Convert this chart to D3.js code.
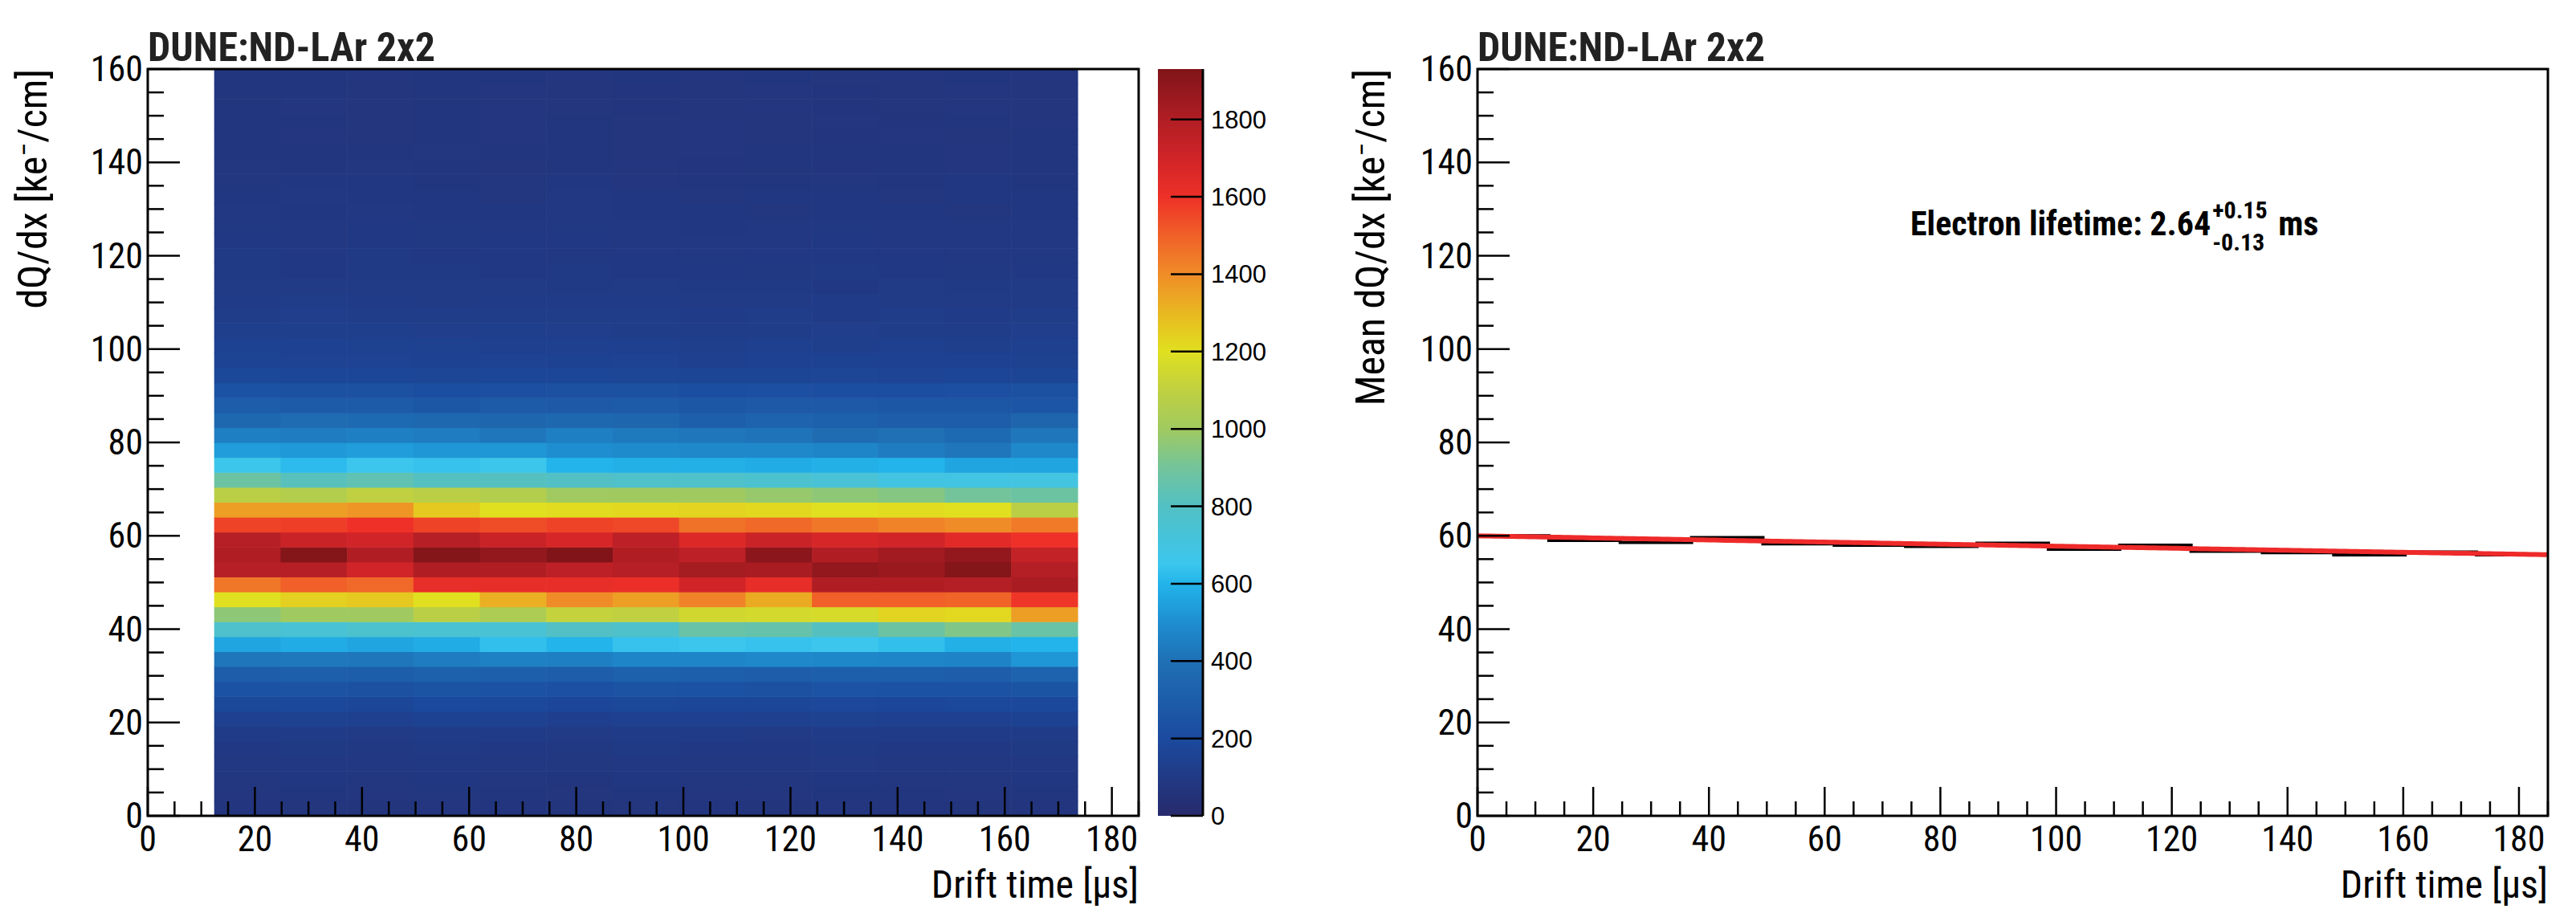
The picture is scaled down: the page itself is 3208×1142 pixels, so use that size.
<!DOCTYPE html>
<html><head><meta charset="utf-8">
<script src="https://cdn.jsdelivr.net/npm/d3@7"></script>
<style>body{margin:0;background:#fff}svg{display:block}</style>
</head><body>
<script>
// ---------- data ----------
const heatXEdges0 = 12.4, heatXBinW = 12.4, heatYBinH = 3.2;
// rows from bottom (0-3.2) upward, 13 drift-time columns each
const heatCounts = [
[70,72,68,75,70,66,72,70,68,74,70,69,71],
[75,78,74,80,76,73,77,75,74,78,76,75,77],
[80,82,79,84,80,78,82,80,79,83,81,80,82],
[88,90,86,92,88,85,90,87,86,91,88,87,89],
[95,97,93,100,96,92,98,95,94,99,96,95,97],
[110,112,108,115,110,106,113,110,108,114,111,110,112],
[140,145,135,150,142,134,140,138,136,145,140,140,150],
[185,190,180,195,186,178,185,180,176,182,178,188,186],
[240,245,235,252,240,234,246,240,236,248,242,240,252],
[300,310,305,320,310,300,315,312,300,312,310,300,330],
[420,425,420,440,455,450,470,470,480,475,470,465,520],
[560,580,560,580,630,600,640,650,640,650,630,590,600],
[770,740,760,750,740,800,780,870,860,810,880,930,870],
[960,1000,1000,1080,1040,1110,1100,1150,1160,1170,1230,1220,1360],
[1200,1240,1260,1200,1320,1400,1360,1420,1330,1500,1500,1490,1590],
[1450,1500,1480,1620,1620,1620,1610,1700,1620,1800,1800,1790,1820],
[1780,1780,1700,1800,1800,1760,1780,1830,1820,1880,1860,1920,1790],
[1800,1920,1800,1920,1880,1930,1800,1760,1900,1800,1840,1880,1740],
[1780,1720,1700,1780,1720,1680,1760,1660,1720,1680,1700,1640,1600],
[1560,1570,1600,1560,1540,1560,1550,1460,1480,1450,1420,1400,1440],
[1360,1360,1380,1260,1200,1210,1220,1230,1220,1200,1210,1200,1080],
[1080,1060,1100,1080,1060,1000,1000,1000,980,960,940,900,880],
[880,820,840,810,810,800,780,780,760,740,700,690,700],
[660,620,650,640,660,600,590,590,580,590,600,560,560],
[540,530,540,520,520,500,490,480,480,470,440,420,480],
[450,440,450,440,420,450,430,420,410,380,400,370,420],
[360,380,370,360,350,360,350,310,330,320,300,300,340],
[300,290,285,270,285,280,285,270,280,280,270,270,260],
[240,235,230,220,225,235,230,220,225,215,215,225,230],
[185,180,180,172,180,176,172,168,168,172,165,170,168],
[160,156,158,152,154,150,154,135,148,150,146,146,142],
[150,146,142,142,140,140,136,132,136,132,136,132,136],
[128,132,128,124,132,124,120,120,118,124,120,118,124],
[120,124,120,116,120,116,120,112,116,112,116,112,116],
[112,116,112,108,112,110,112,108,104,112,108,104,108],
[108,104,104,108,104,102,104,100,102,96,104,100,104],
[100,96,100,98,96,98,96,94,92,98,96,92,94],
[98,96,98,96,94,92,96,92,94,96,94,90,92],
[94,90,94,92,94,96,88,90,88,94,88,86,90],
[92,88,94,92,88,92,88,84,88,92,88,86,88],
[88,84,88,82,84,88,84,82,80,84,82,80,84],
[84,86,82,84,80,86,84,80,82,84,80,82,84],
[80,84,82,78,80,82,74,78,76,80,78,82,78],
[80,78,80,76,72,78,75,70,76,70,78,75,78],
[78,76,78,80,76,78,72,74,76,78,76,74,78],
[76,74,72,76,74,78,72,74,72,70,74,72,76],
[76,78,72,76,74,76,72,74,72,74,70,76,74],
[76,74,72,76,74,72,70,72,74,70,72,74,72],
[76,78,72,76,74,72,70,72,74,70,72,74,72],
[78,76,74,78,76,74,76,74,76,72,74,76,74]
];
const colorStops = [0,200,400,500,600,650,800,900,1000,1100,1200,1300,1400,1500,1600,1700,1800,1930];
const colorList = ["#272a6c","#1b4a9e","#1f70b5","#1e8ed0","#22b4ea","#3cc6ee","#52c0c4","#73c49a","#a0ca60","#c0d040","#e0e020","#e8b820","#f08c28","#f06028","#ee3028","#d02428","#b01e24","#801418"];
const zMax = 1930;
const zTicks = [0,200,400,600,800,1000,1200,1400,1600,1800];
const meanBinW = 12.333;
const meanValues = [60.0,59.0,58.6,59.6,58.3,58.0,57.7,58.4,57.1,58.0,56.7,56.4,55.9,56.5,55.9];
const fitA = 60.0, fitLifetimeUs = 2640;
const xTickVals = [0,20,40,60,80,100,120,140,160,180];
const yTickVals = [0,20,40,60,80,100,120,140,160];
const xMax = 185, yMax = 160;

// ---------- drawing ----------
const W = 3208, H = 1142;
const svg = d3.select("body").append("svg").attr("width", W).attr("height", H);
const NUM = "'Liberation Sans Narrow','Roboto Condensed','Liberation Sans',sans-serif";
const pTop = 86, pBottom = 1016;
const color = d3.scaleLinear().domain(colorStops).range(colorList).clamp(true);

function frame(x0, x1) {
  const x = d3.scaleLinear().domain([0, xMax]).range([x0, x1]);
  const y = d3.scaleLinear().domain([0, yMax]).range([pBottom, pTop]);
  return {x, y};
}
function axes(x, y, ylabel, ylabelX) {
  const [x0, x1] = x.range();
  const g = svg.append("g");
  const minorX = d3.range(0, xMax + 0.01, 5);
  g.selectAll(".mx").data(minorX).join("line")
    .attr("x1", d => x(d)).attr("x2", d => x(d))
    .attr("y1", pBottom).attr("y2", d => pBottom - (d % 20 === 0 ? 36 : 18))
    .attr("stroke", "#000").attr("stroke-width", 2.5);
  const minorY = d3.range(0, yMax + 0.01, 5);
  g.selectAll(".my").data(minorY).join("line")
    .attr("y1", d => y(d)).attr("y2", d => y(d))
    .attr("x1", x0).attr("x2", d => x0 + (d % 20 === 0 ? 40 : 20))
    .attr("stroke", "#000").attr("stroke-width", 2.5);
  g.append("rect").attr("x", x0).attr("y", pTop).attr("width", x1 - x0).attr("height", pBottom - pTop)
    .attr("fill", "none").attr("stroke", "#000").attr("stroke-width", 3);
  g.selectAll(".xl").data(xTickVals).join("text")
    .attr("x", d => x(d)).attr("y", pBottom + 44).attr("text-anchor", "middle")
    .attr("font-family", NUM).attr("font-size", 44).text(d => d);
  g.selectAll(".yl").data(yTickVals).join("text")
    .attr("x", x0 - 6).attr("y", d => y(d) + 15).attr("text-anchor", "end")
    .attr("font-family", NUM).attr("font-size", 44).text(d => d);
  g.append("text").attr("x", x1).attr("y", 1118).attr("text-anchor", "end")
    .attr("font-family", NUM).attr("font-size", 48).text("Drift time [μs]");
  const t = g.append("text").attr("transform", `translate(${ylabelX},${pTop}) rotate(-90)`)
    .attr("text-anchor", "end").attr("font-family", NUM).attr("font-size", 50);
  t.append("tspan").text(ylabel + " [ke");
  t.append("tspan").attr("dy", -16).attr("font-size", 34).text("−");
  t.append("tspan").attr("dy", 16).text("/cm]");
  g.append("text").attr("x", x0).attr("y", 76).attr("font-family", NUM)
    .attr("font-weight", "bold").attr("font-size", 50).attr("fill", "#222").text("DUNE:ND-LAr 2x2");
}

// left: heatmap
const L = frame(184, 1418);
const cells = [];
heatCounts.forEach((row, j) => row.forEach((v, i) => cells.push({i, j, v})));
svg.append("g").selectAll("rect").data(cells).join("rect")
  .attr("x", d => L.x(heatXEdges0 + d.i * heatXBinW))
  .attr("width", d => L.x(heatXEdges0 + (d.i + 1) * heatXBinW) - L.x(heatXEdges0 + d.i * heatXBinW) + 0.6)
  .attr("y", d => L.y((d.j + 1) * heatYBinH))
  .attr("height", d => L.y(d.j * heatYBinH) - L.y((d.j + 1) * heatYBinH) + 0.6)
  .attr("fill", d => color(d.v));
axes(L.x, L.y, "dQ/dx", 58);

// colorbar
const cbX0 = 1442, cbX1 = 1498;
const zS = d3.scaleLinear().domain([0, zMax]).range([pBottom, pTop]);
const grad = svg.append("defs").append("linearGradient").attr("id", "cb")
  .attr("x1", 0).attr("y1", 1).attr("x2", 0).attr("y2", 0);
colorStops.forEach((s, k) => grad.append("stop").attr("offset", s / zMax).attr("stop-color", colorList[k]));
svg.append("rect").attr("x", cbX0).attr("y", pTop).attr("width", cbX1 - cbX0).attr("height", pBottom - pTop).attr("fill", "url(#cb)");
svg.append("line").attr("x1", cbX1).attr("x2", cbX1).attr("y1", pTop).attr("y2", pBottom).attr("stroke", "#000").attr("stroke-width", 3);
svg.selectAll(".zt").data(zTicks).join("line").attr("x1", cbX1 - 40).attr("x2", cbX1)
  .attr("y1", d => zS(d)).attr("y2", d => zS(d)).attr("stroke", "#000").attr("stroke-width", 2.5);
svg.selectAll(".zl").data(zTicks).join("text").attr("x", cbX1 + 10).attr("y", d => zS(d) + 11)
  .attr("font-family", "'Liberation Sans',Arial,sans-serif").attr("font-size", 31).text(d => d);

// right: mean profile
const R = frame(1840, 3173);
const stepPts = [];
meanValues.forEach((v, i) => { stepPts.push([i * meanBinW, v]); stepPts.push([(i + 1) * meanBinW, v]); });
svg.append("path").attr("d", d3.line().x(d => R.x(d[0])).y(d => R.y(d[1]))(stepPts))
  .attr("fill", "none").attr("stroke", "#000").attr("stroke-width", 4);
const fitPts = d3.range(0, xMax + 0.01, 1).map(t => [t, fitA * Math.exp(-t / fitLifetimeUs)]);
svg.append("path").attr("d", d3.line().x(d => R.x(d[0])).y(d => R.y(d[1]))(fitPts))
  .attr("fill", "none").attr("stroke", "#ee2a2a").attr("stroke-width", 6);
axes(R.x, R.y, "Mean dQ/dx", 1724);
const lt = svg.append("text").attr("x", 2379).attr("y", 293).attr("font-family", NUM)
  .attr("font-weight", "bold").attr("font-size", 42);
lt.append("tspan").text("Electron lifetime: 2.64");
const ltx = 2379 + lt.node().getComputedTextLength();
svg.append("text").attr("x", ltx + 2).attr("y", 272).attr("font-family", NUM).attr("font-weight", "bold").attr("font-size", 30).text("+0.15");
svg.append("text").attr("x", ltx + 2).attr("y", 312).attr("font-family", NUM).attr("font-weight", "bold").attr("font-size", 30).text("-0.13");
svg.append("text").attr("x", ltx + 84).attr("y", 293).attr("font-family", NUM).attr("font-weight", "bold").attr("font-size", 42).text("ms");
</script>
</body></html>
